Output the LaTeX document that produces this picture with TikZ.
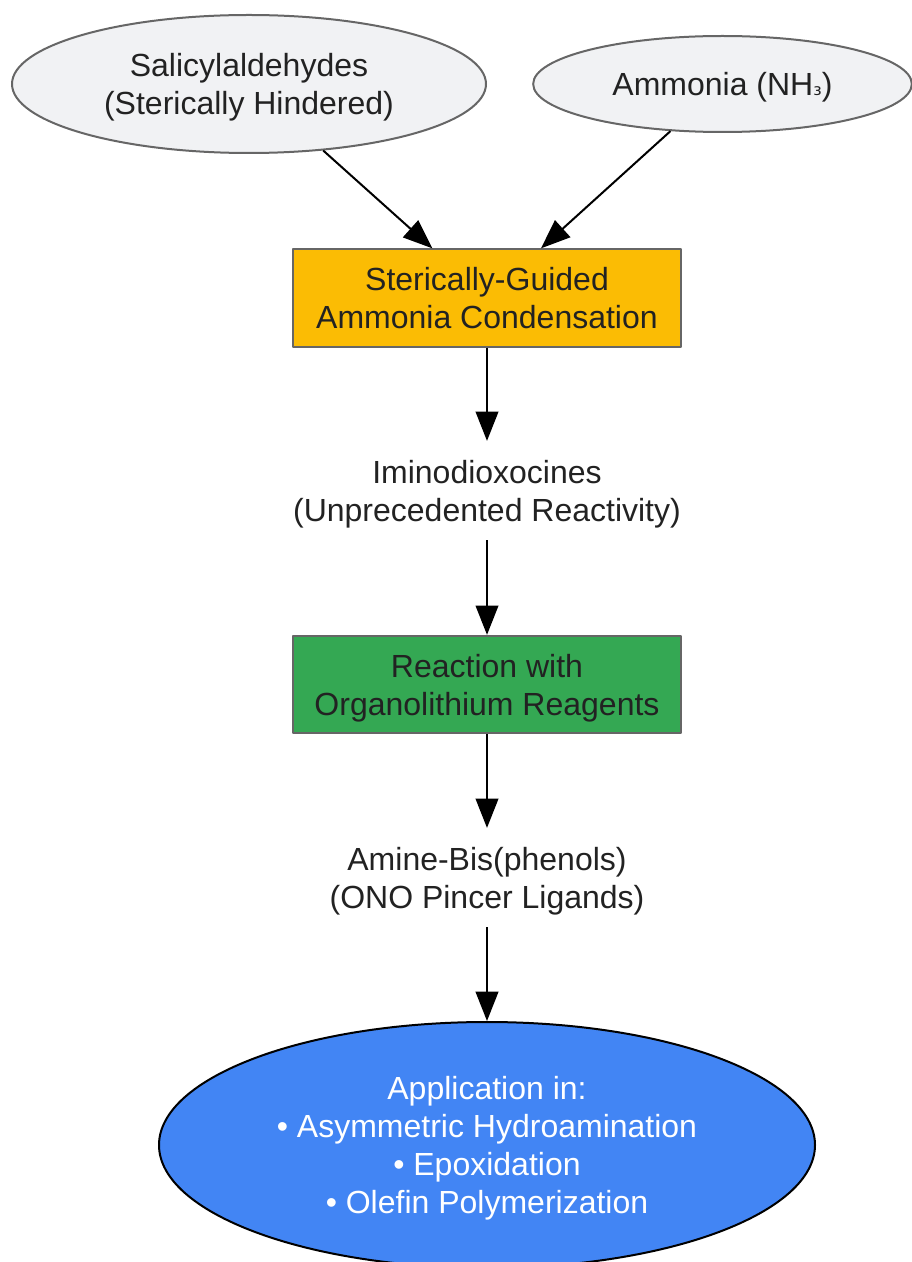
\documentclass[tikz,border=0pt]{standalone}
\usepackage{fontspec}
\setmainfont{Liberation Sans}
\newfontfamily\subfont{DejaVu Sans}
\usetikzlibrary{arrows.meta,shapes.geometric}
\definecolor{ink}{HTML}{222222}
\definecolor{rim}{HTML}{666666}
\definecolor{pale}{HTML}{F1F2F4}
\definecolor{amber}{HTML}{FBBC04}
\definecolor{leaf}{HTML}{34A853}
\definecolor{sky}{HTML}{4285F4}
\begin{document}
\begin{tikzpicture}[x=0.75pt,y=-0.75pt,>={Triangle[length=22pt,width=17pt]},line join=round,font=\fontsize{24pt}{28.5pt}\selectfont,
	lift/.style={text depth=-2pt},
	src/.style={ellipse,draw=rim,line width=1.5pt,fill=pale,text=ink,align=center,inner sep=0pt,lift},
	stepbox/.style={rectangle,draw=rim,line width=1.5pt,text=ink,align=center,minimum width=291.5pt,minimum height=73pt,lift},
	prod/.style={text=ink,align=center,minimum height=74pt,lift},
	link/.style={->,line width=1.5pt}]
		\useasboundingbox (0,0) rectangle (911,1262);
		\node[src,minimum width=355.5pt,minimum height=103.5pt] (sal) at (249,84) {Salicylaldehydes\\(Sterically Hindered)};
		\node[src,minimum width=284pt,minimum height=72pt] (nh) at (722.5,84) {Ammonia (NH{\subfont\fontsize{16pt}{16pt}\selectfont ₃})};
		\node[stepbox,fill=amber] (cond) at (487,298) {Sterically-Guided\\Ammonia Condensation};
		\node[prod] (imino) at (487,490.5) {Iminodioxocines\\(Unprecedented Reactivity)};
		\node[stepbox,fill=leaf] (rli) at (487,684.5) {Reaction with\\Organolithium Reagents};
		\node[prod] (amine) at (487,877.5) {Amine-Bis(phenols)\\(ONO Pincer Ligands)};
		\node[ellipse,draw=black,line width=1.5pt,fill=sky,text=white,align=center,minimum width=492pt,minimum height=184.5pt,lift] (app) at (487,1145) {Application in:\\\textbullet\ Asymmetric Hydroamination\\\textbullet\ Epoxidation\\\textbullet\ Olefin Polymerization};
		\draw[link] (sal) -- ([xshift=-41pt]cond.north);
		\draw[link] (nh) -- ([xshift=40.5pt]cond.north);
		\draw[link] (cond) -- (imino);
		\draw[link] (imino) -- (rli);
		\draw[link] (rli) -- (amine);
		\draw[link] (amine) -- (app);
\end{tikzpicture}
\end{document}
